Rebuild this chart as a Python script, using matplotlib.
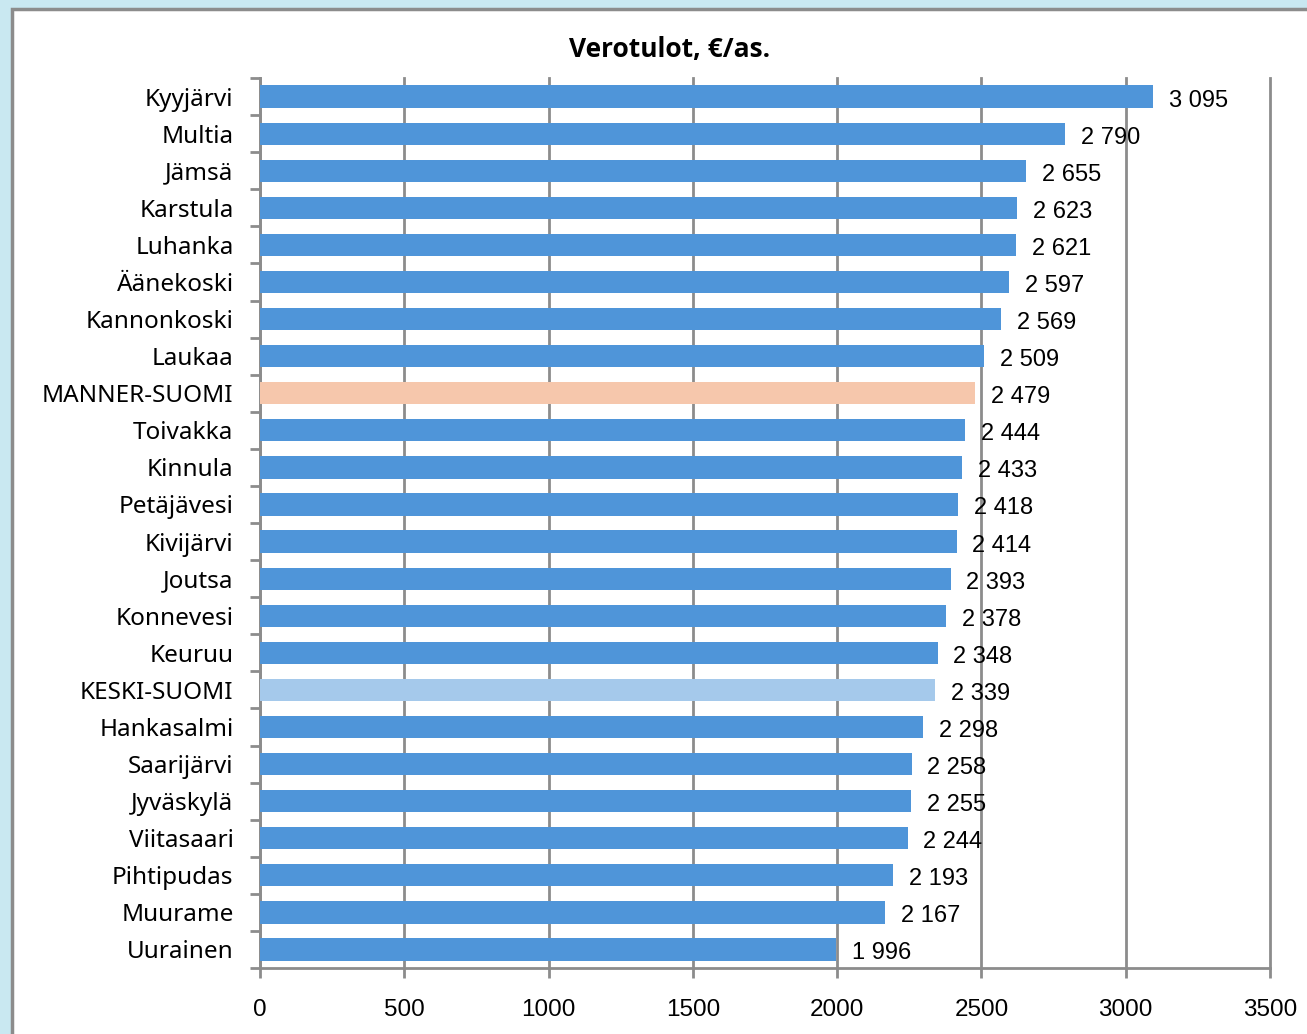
import matplotlib.pyplot as plt
from matplotlib.patches import Rectangle

# Verotulot per asukas
kunnat = ['Kyyjärvi', 'Multia', 'Jämsä', 'Karstula', 'Luhanka', 'Äänekoski',
          'Kannonkoski', 'Laukaa', 'MANNER-SUOMI', 'Toivakka', 'Kinnula',
          'Petäjävesi', 'Kivijärvi', 'Joutsa', 'Konnevesi', 'Keuruu',
          'KESKI-SUOMI', 'Hankasalmi', 'Saarijärvi', 'Jyväskylä', 'Viitasaari',
          'Pihtipudas', 'Muurame', 'Uurainen']
verotulot = [3095, 2790, 2655, 2623, 2621, 2597, 2569, 2509, 2479, 2444, 2433,
             2418, 2414, 2393, 2378, 2348, 2339, 2298, 2258, 2255, 2244, 2193,
             2167, 1996]
x_ticks = [0, 500, 1000, 1500, 2000, 2500, 3000, 3500]

sininen = '#4F95D9'
varit = []
for k in kunnat:
    if k == 'MANNER-SUOMI':
        varit.append('#F6C7AC')
    elif k == 'KESKI-SUOMI':
        varit.append('#A5C9EB')
    else:
        varit.append(sininen)

fig = plt.figure(figsize=(13.07, 10.34), dpi=100)
fig.patch.set_facecolor('#C9E8F1')
# valkoinen paneeli
fig.patches.append(Rectangle((12 / 1307, -0.05), 1.1, 1 - 9 / 1034 + 0.05,
                             transform=fig.transFigure, facecolor='white',
                             edgecolor='#8C8C8C', linewidth=2.5, zorder=-5))

ax = fig.add_axes([260 / 1307, 1 - 968 / 1034, 1010 / 1307, 890 / 1034])
ax.set_facecolor('none')
ax.set_zorder(2)

y = list(range(len(kunnat)))
ax.barh(y, verotulot, height=0.6, color=varit, zorder=3)
for yi, v in zip(y, verotulot):
    txt = f'{v:,}'.replace(',', ' ')
    ax.text(v + 55, yi + 0.04, txt, va='center_baseline', ha='left', fontsize=17,
            family='Liberation Sans', zorder=4)

ax.set_xlim(0, 3500)
ax.set_ylim(len(kunnat) - 0.5, -0.5)
ax.set_xticks(x_ticks)
ax.set_xticklabels([str(t) for t in x_ticks], fontsize=17.5, family='Liberation Sans')
ax.set_yticks(y)
ax.set_yticklabels(kunnat, fontsize=17.5, family='Noto Sans')
ax.set_yticks([i - 0.5 for i in range(len(kunnat) + 1)], minor=True)
ax.tick_params(axis='y', which='major', length=0, pad=19)
ax.tick_params(axis='y', which='minor', length=7, width=2, color='#8C8C8C')
ax.tick_params(axis='x', length=7, width=2, color='#8C8C8C', pad=15)

ax.grid(axis='x', color='#8C8C8C', linewidth=2, zorder=1)
for gl in ax.get_xgridlines():
    gl.set_clip_on(False)
for s in ['top', 'right']:
    ax.spines[s].set_visible(False)
for s in ['left', 'bottom']:
    ax.spines[s].set_color('#8C8C8C')
    ax.spines[s].set_linewidth(2)

fig.text(670 / 1307, 1 - 50 / 1034, 'Verotulot, €/as.', ha='center', va='center',
         fontsize=19, fontweight='bold', family='Open Sans')

fig.savefig('out.png', dpi=100, facecolor=fig.get_facecolor())
